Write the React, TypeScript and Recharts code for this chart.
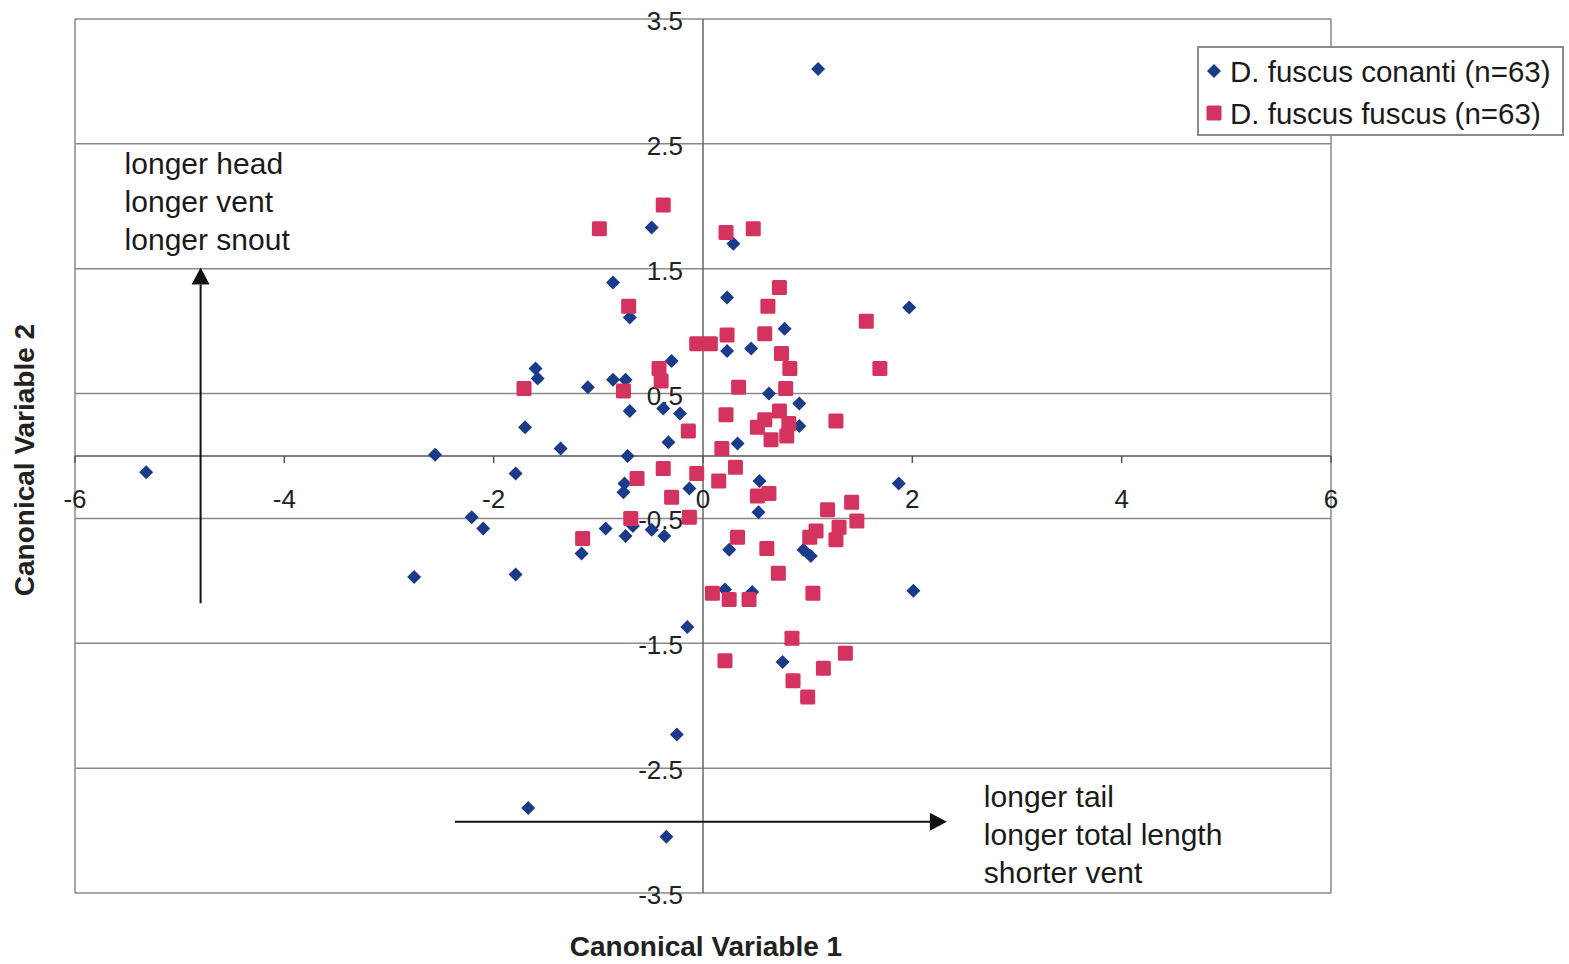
import React from 'react'
import { ScatterChart, Scatter, XAxis, YAxis, ReferenceLine, ReferenceDot, Legend } from 'recharts'

// D. fuscus conanti (canonical variable 1, canonical variable 2)
const conanti = [
  { x: -0.49, y: 1.83 }, { x: -0.86, y: 1.39 }, { x: -0.7, y: 1.11 }, { x: -0.3, y: 0.76 },
  { x: -1.6, y: 0.7 }, { x: -1.58, y: 0.62 }, { x: -1.1, y: 0.55 }, { x: -0.86, y: 0.61 },
  { x: -0.74, y: 0.61 }, { x: -0.7, y: 0.36 }, { x: -0.38, y: 0.38 }, { x: -0.22, y: 0.34 },
  { x: -1.7, y: 0.23 }, { x: -1.36, y: 0.06 }, { x: -0.33, y: 0.11 }, { x: -0.72, y: 0.0 },
  { x: 0.29, y: 1.7 }, { x: 0.23, y: 1.27 }, { x: 1.97, y: 1.19 }, { x: 0.78, y: 1.02 },
  { x: 0.23, y: 0.84 }, { x: 0.46, y: 0.86 }, { x: 0.63, y: 0.5 }, { x: 0.92, y: 0.42 },
  { x: 0.92, y: 0.24 }, { x: 0.33, y: 0.1 }, { x: -1.79, y: -0.14 }, { x: -0.75, y: -0.22 },
  { x: -0.76, y: -0.29 }, { x: -0.13, y: -0.26 }, { x: -0.67, y: -0.56 }, { x: -0.93, y: -0.58 },
  { x: -0.74, y: -0.64 }, { x: -0.49, y: -0.59 }, { x: -0.37, y: -0.64 }, { x: -1.16, y: -0.78 },
  { x: -1.79, y: -0.95 }, { x: -0.15, y: -1.37 }, { x: -5.32, y: -0.13 }, { x: -2.56, y: 0.01 },
  { x: -2.21, y: -0.49 }, { x: -2.1, y: -0.58 }, { x: -2.76, y: -0.97 }, { x: 0.54, y: -0.2 },
  { x: 0.53, y: -0.45 }, { x: 1.87, y: -0.22 }, { x: 0.25, y: -0.75 }, { x: 0.96, y: -0.75 },
  { x: 1.03, y: -0.8 }, { x: 0.21, y: -1.07 }, { x: 0.47, y: -1.09 }, { x: 2.01, y: -1.08 },
  { x: 0.76, y: -1.65 }, { x: -0.25, y: -2.23 }, { x: -1.67, y: -2.82 }, { x: -0.35, y: -3.05 },
  { x: 1.1, y: 3.1 },
]

// D. fuscus fuscus
const fuscus = [
  { x: -0.38, y: 2.01 }, { x: -0.99, y: 1.82 }, { x: -0.71, y: 1.2 }, { x: -0.06, y: 0.9 },
  { x: 0.07, y: 0.9 }, { x: -0.42, y: 0.7 }, { x: -0.4, y: 0.6 }, { x: -1.71, y: 0.54 },
  { x: -0.76, y: 0.52 }, { x: -0.14, y: 0.2 }, { x: 0.22, y: 1.79 }, { x: 0.48, y: 1.82 },
  { x: 0.73, y: 1.35 }, { x: 0.62, y: 1.2 }, { x: 1.56, y: 1.08 }, { x: 0.23, y: 0.97 },
  { x: 0.59, y: 0.98 }, { x: 0.75, y: 0.82 }, { x: 0.83, y: 0.7 }, { x: 1.69, y: 0.7 },
  { x: 0.34, y: 0.55 }, { x: 0.79, y: 0.54 }, { x: 0.22, y: 0.33 }, { x: 1.27, y: 0.28 },
  { x: 0.73, y: 0.36 }, { x: 0.59, y: 0.29 }, { x: 0.52, y: 0.23 }, { x: 0.82, y: 0.26 },
  { x: 0.8, y: 0.16 }, { x: 0.65, y: 0.13 }, { x: 0.18, y: 0.06 }, { x: -0.38, y: -0.1 },
  { x: -0.06, y: -0.14 }, { x: -0.63, y: -0.18 }, { x: -0.3, y: -0.33 }, { x: -0.13, y: -0.49 },
  { x: -0.69, y: -0.5 }, { x: -1.15, y: -0.66 }, { x: 0.31, y: -0.09 }, { x: 0.15, y: -0.2 },
  { x: 0.52, y: -0.32 }, { x: 0.63, y: -0.3 }, { x: 1.19, y: -0.43 }, { x: 1.42, y: -0.37 },
  { x: 1.47, y: -0.52 }, { x: 1.08, y: -0.6 }, { x: 1.02, y: -0.65 }, { x: 1.3, y: -0.57 },
  { x: 1.27, y: -0.67 }, { x: 0.33, y: -0.65 }, { x: 0.61, y: -0.74 }, { x: 0.72, y: -0.94 },
  { x: 0.09, y: -1.1 }, { x: 0.25, y: -1.15 }, { x: 0.44, y: -1.15 }, { x: 1.05, y: -1.1 },
  { x: 0.85, y: -1.46 }, { x: 1.36, y: -1.58 }, { x: 0.21, y: -1.64 }, { x: 1.15, y: -1.7 },
  { x: 0.86, y: -1.8 }, { x: 1.0, y: -1.93 },
]

const xTicks = [-6, -4, -2, 0, 2, 4, 6]
const yTicks = [-3.5, -2.5, -1.5, -0.5, 0.5, 1.5, 2.5, 3.5]

const seriesNames = ['D. fuscus conanti (n=63)', 'D. fuscus fuscus (n=63)']

// annotation arrows, in data units
const arrowUp = [{ x: -4.8, y: -1.18 }, { x: -4.8, y: 1.51 }]
const arrowRight = [{ x: -2.37, y: -2.93 }, { x: 2.33, y: -2.93 }]
const upLines = ['longer head', 'longer vent', 'longer snout']
const rightLines = ['longer tail', 'longer total length', 'shorter vent']

const BLUE = '#1a3a8a'
const RED = '#d3335e'
const GRID = '#8a8a8a'
const FONT = '"Liberation Sans", Arial, sans-serif'

const Diamond = ({ cx, cy }: any) => (
  <polygon points={`${cx},${cy - 7} ${cx + 7},${cy} ${cx},${cy + 7} ${cx - 7},${cy}`} fill={BLUE} />
)

const Square = ({ cx, cy }: any) => (
  <rect x={cx - 7.5} y={cy - 7.5} width={15} height={15} rx={1.5} fill={RED} />
)

const XTick = ({ cx, cy, text }: any) => (
  <g>
    <line x1={cx} y1={cy} x2={cx} y2={cy + 7} stroke="#555" strokeWidth={1.5} />
    <text x={cx} y={cy + 43} textAnchor="middle" dominantBaseline="central" fontSize={26} fontFamily={FONT} fill="#222">
      {text}
    </text>
  </g>
)

const YTick = ({ cx, cy, text }: any) => (
  <text x={cx - 20} y={cy + 2} textAnchor="end" dominantBaseline="central" fontSize={26} fontFamily={FONT} fill="#222">
    {text}
  </text>
)

function Arrow(props: any) {
  const { x1, y1, x2, y2, lines, textDx, textDy } = props
  const dx = x2 - x1
  const dy = y2 - y1
  const len = Math.hypot(dx, dy)
  const ux = dx / len
  const uy = dy / len
  const hl = 17
  const hw = 9
  const bx = x2 - ux * hl
  const by = y2 - uy * hl
  const pts = `${x2},${y2} ${bx - uy * hw},${by + ux * hw} ${bx + uy * hw},${by - ux * hw}`
  return (
    <g>
      <line x1={x1} y1={y1} x2={bx} y2={by} stroke="#111" strokeWidth={2} />
      <polygon points={pts} fill="#111" />
      {lines.map((t: string, i: number) => (
        <text key={t} x={x2 + textDx} y={y2 + textDy + i * 38} fontSize={30} fontFamily={FONT} fill="#1a1a1a">
          {t}
        </text>
      ))}
    </g>
  )
}

function LegendBox() {
  return (
    <svg width={367} height={90} style={{ display: 'block' }}>
      <rect x={1} y={1} width={365} height={88} fill="#fff" stroke={GRID} strokeWidth={2} />
      <Diamond cx={17} cy={25} />
      <text x={33} y={25} dominantBaseline="central" fontSize={29.5} fontFamily={FONT} fill="#1a1a1a">
        {seriesNames[0]}
      </text>
      <Square cx={17} cy={67} />
      <text x={33} y={67} dominantBaseline="central" fontSize={29.5} fontFamily={FONT} fill="#1a1a1a">
        {seriesNames[1]}
      </text>
    </svg>
  )
}

export default function App() {
  return (
    <div style={{ position: 'absolute', left: 0, top: 0 }}>
      <ScatterChart width={1569} height={964} margin={{ top: 19, right: 238, bottom: 71, left: 75 }}>
        <XAxis type="number" dataKey="x" domain={[-6, 6]} ticks={xTicks} hide allowDataOverflow />
        <YAxis type="number" dataKey="y" domain={[-3.5, 3.5]} ticks={yTicks} hide allowDataOverflow />

        {yTicks.map((v) => (
          <ReferenceLine key={`g${v}`} y={v} stroke={GRID} strokeWidth={1.5} />
        ))}
        <ReferenceLine x={-6} stroke={GRID} strokeWidth={1.5} />
        <ReferenceLine x={6} stroke={GRID} strokeWidth={1.5} />
        <ReferenceLine x={0} stroke="#666" strokeWidth={1.5} />
        <ReferenceLine y={0} stroke="#555" strokeWidth={1.5} />

        {xTicks.map((t) => (
          <ReferenceDot key={`x${t}`} x={t} y={0} r={0} shape={(p: any) => <XTick {...p} text={String(t)} />} />
        ))}
        {yTicks.map((t) => (
          <ReferenceDot key={`y${t}`} x={0} y={t} r={0} shape={(p: any) => <YTick {...p} text={String(t)} />} />
        ))}

        <ReferenceLine
          segment={arrowUp}
          shape={(p: any) => <Arrow {...p} lines={upLines} textDx={-76} textDy={-93} />}
        />
        <ReferenceLine
          segment={arrowRight}
          shape={(p: any) => <Arrow {...p} lines={rightLines} textDx={37} textDy={-15} />}
        />

        <Scatter name={seriesNames[0]} data={conanti} fill={BLUE} shape={Diamond} isAnimationActive={false} />
        <Scatter name={seriesNames[1]} data={fuscus} fill={RED} shape={Square} isAnimationActive={false} />

        <Legend
          layout="vertical"
          align="center"
          verticalAlign="middle"
          content={() => <LegendBox />}
          wrapperStyle={{ left: 1197, top: 46, width: 'auto', height: 'auto' }}
        />

        <text x={706} y={946} textAnchor="middle" dominantBaseline="central" fontSize={28} fontWeight="bold" fontFamily={FONT} fill="#222">
          Canonical Variable 1
        </text>
        <text
          x={24}
          y={460}
          transform="rotate(-90 24 460)"
          textAnchor="middle"
          dominantBaseline="central"
          fontSize={28}
          fontWeight="bold"
          fontFamily={FONT}
          fill="#222"
        >
          Canonical Variable 2
        </text>
      </ScatterChart>
    </div>
  )
}
